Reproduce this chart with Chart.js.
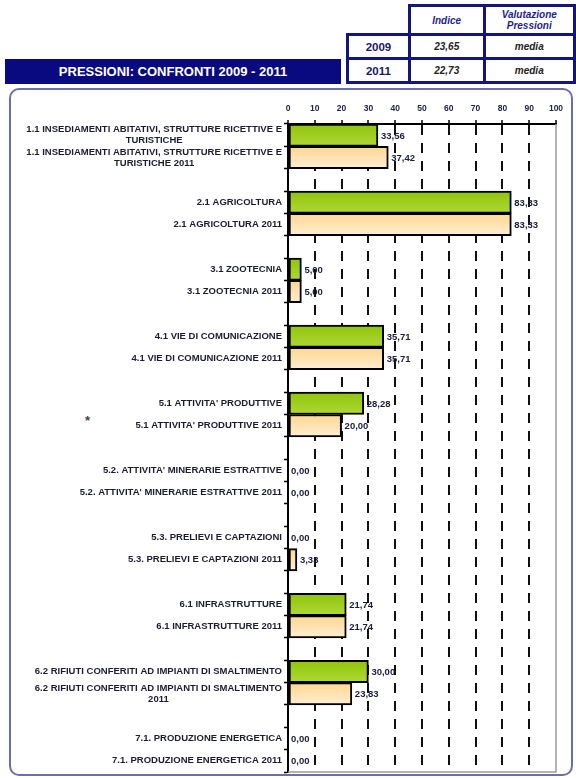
<!DOCTYPE html>
<html>
<head>
<meta charset="utf-8">
<script src="https://cdn.jsdelivr.net/npm/chart.js@4/dist/chart.umd.min.js"></script>
<style>
  body { margin: 0; width: 576px; height: 778px; background: #fff; position: relative; overflow: hidden;
         font-family: "Liberation Sans", Arial, sans-serif; }
  .banner { position: absolute; left: 5px; top: 59px; width: 336px; height: 25px; background: #0a0a80;
            color: #fff; font-weight: bold; font-size: 13px; line-height: 25px; text-align: center; }
  table.idx { position: absolute; left: 346px; top: 4px; border-collapse: collapse; }
  table.idx td { border: 3px solid #14147e; text-align: center; padding: 0; font-weight: bold; color: #1a1a80; }
  table.idx td.blank { border: none; }
  table.idx .hd { font-style: italic; font-size: 10px; line-height: 11px; color: #1e1e90; }
  table.idx .yr { font-size: 11.5px; color: #181870; }
  table.idx .val { font-style: italic; font-size: 10px; color: #222; }
  .frame { position: absolute; left: 9px; top: 88px; width: 560px; height: 684px;
           border: 2px solid #6c6cb4; border-radius: 10px; }
  #wrap { position: absolute; left: 0; top: 90px; width: 576px; height: 688px; }
  .star { position: absolute; left: 85px; top: 413px; font-size: 13px; color: #444; font-weight: bold; }
</style>
</head>
<body>

<table class="idx">
  <tr style="height:29px">
    <td class="blank" style="width:63px"></td>
    <td class="hd" style="width:75px">Indice</td>
    <td class="hd" style="width:90px">Valutazione<br>Pressioni</td>
  </tr>
  <tr style="height:24px">
    <td class="yr">2009</td><td class="val">23,65</td><td class="val">media</td>
  </tr>
  <tr style="height:24px">
    <td class="yr">2011</td><td class="val">22,73</td><td class="val">media</td>
  </tr>
</table>
<div class="banner">PRESSIONI: CONFRONTI 2009 - 2011</div>

<div class="frame"></div>
<div class="star">*</div>
<div id="wrap"><canvas id="chart"></canvas></div>

<script>
// --- data ---
const labels2009 = [
    ['1.1 INSEDIAMENTI ABITATIVI, STRUTTURE RICETTIVE E', 'TURISTICHE'],
    '2.1 AGRICOLTURA',
    '3.1 ZOOTECNIA',
    '4.1 VIE DI COMUNICAZIONE',
    "5.1 ATTIVITA' PRODUTTIVE",
    "5.2. ATTIVITA' MINERARIE ESTRATTIVE",
    '5.3. PRELIEVI E CAPTAZIONI',
    '6.1 INFRASTRUTTURE',
    '6.2 RIFIUTI CONFERITI AD IMPIANTI DI SMALTIMENTO',
    '7.1. PRODUZIONE ENERGETICA',
];
const labels2011 = [
    ['1.1 INSEDIAMENTI ABITATIVI, STRUTTURE RICETTIVE E', 'TURISTICHE 2011'],
    '2.1 AGRICOLTURA 2011',
    '3.1 ZOOTECNIA 2011',
    '4.1 VIE DI COMUNICAZIONE 2011',
    "5.1 ATTIVITA' PRODUTTIVE 2011",
    "5.2. ATTIVITA' MINERARIE ESTRATTIVE 2011",
    '5.3. PRELIEVI E CAPTAZIONI 2011',
    '6.1 INFRASTRUTTURE 2011',
    ['6.2 RIFIUTI CONFERITI AD IMPIANTI DI SMALTIMENTO', '2011'],
    '7.1. PRODUZIONE ENERGETICA 2011',
];
const values2009 = [33.56, 83.33, 5.00, 35.71, 28.28, 0.00, 0.00, 21.74, 30.00, 0.00];
const values2011 = [37.42, 83.33, 5.00, 35.71, 20.00, 0.00, 3.33, 21.74, 23.83, 0.00];
const xTicks = [0, 10, 20, 30, 40, 50, 60, 70, 80, 90, 100];

// rows: 2009 bar, 2011 bar, empty spacer row between groups
const rowLabels = [], rowValues = [], rowYear = [];
labels2009.forEach((l, i) => {
    if (i > 0) { rowLabels.push(''); rowValues.push(null); rowYear.push(0); }
    rowLabels.push(l); rowValues.push(values2009[i]); rowYear.push(2009);
    rowLabels.push(labels2011[i]); rowValues.push(values2011[i]); rowYear.push(2011);
});

const FONT = '"Liberation Sans", Arial, sans-serif';
const PLOT_LEFT = 288;

function barFill(ctx) {
    const chart = ctx.chart;
    const i = ctx.dataIndex;
    const top = rowYear[i] === 2011 ? '#ffd690' : '#8fc408';
    const bot = rowYear[i] === 2011 ? '#ffeed3' : '#afd838';
    const ys = chart.scales.y;
    if (!ys || !chart.chartArea) return top;
    const c = ys.getPixelForValue(i);
    const h = ys.getPixelForValue(1) - ys.getPixelForValue(0);
    const g = chart.ctx.createLinearGradient(0, c - h / 2, 0, c + h / 2);
    g.addColorStop(0, top);
    g.addColorStop(1, bot);
    return g;
}

const fmtIt = v => v.toFixed(2).replace('.', ',');

// category labels: single lines right aligned, multi-line blocks centred on their widest line
const yLabelPlugin = {
    id: 'yLabels',
    afterDraw(chart) {
        const ctx = chart.ctx, ys = chart.scales.y;
        const right = PLOT_LEFT - 6;
        ctx.save();
        ctx.font = 'bold 9.5px ' + FONT;
        ctx.fillStyle = '#1c1c30';
        ctx.textAlign = 'center';
        ctx.textBaseline = 'middle';
        rowLabels.forEach((lab, i) => {
            if (!lab) return;
            const lines = Array.isArray(lab) ? lab : [lab];
            const w = Math.max(...lines.map(s => ctx.measureText(s).width));
            const cx = right - w / 2;
            const lh = 11;
            const y0 = ys.getPixelForValue(i) - (lines.length - 1) * lh / 2;
            lines.forEach((s, k) => ctx.fillText(s, cx, y0 + k * lh));
        });
        ctx.restore();
    }
};

const valueLabelPlugin = {
    id: 'valueLabels',
    afterDatasetsDraw(chart) {
        const ctx = chart.ctx;
        const meta = chart.getDatasetMeta(0);
        ctx.save();
        ctx.font = 'bold 9.5px ' + FONT;
        ctx.fillStyle = '#1c1c3a';
        ctx.textAlign = 'left';
        ctx.textBaseline = 'middle';
        meta.data.forEach((bar, i) => {
            if (rowValues[i] === null) return;
            ctx.fillText(fmtIt(rowValues[i]), bar.x + 3, bar.y + 1);
        });
        ctx.restore();
    }
};

// grey frame on the right and bottom of the plot area
const plotBorderPlugin = {
    id: 'plotBorder',
    beforeDatasetsDraw(chart) {
        const { ctx, chartArea: a } = chart;
        ctx.save();
        ctx.strokeStyle = '#9a9a9a';
        ctx.lineWidth = 1.5;
        ctx.beginPath();
        ctx.moveTo(a.right, a.top);
        ctx.lineTo(a.right, a.bottom);
        ctx.lineTo(a.left, a.bottom);
        ctx.stroke();
        ctx.restore();
    }
};

new Chart(document.getElementById('chart'), {
    type: 'bar',
    data: {
        labels: rowLabels,
        datasets: [{
            data: rowValues,
            backgroundColor: barFill,
            borderColor: '#000',
            borderWidth: 2,
            borderSkipped: false,
            barPercentage: 1,
            categoryPercentage: 1,
        }],
    },
    options: {
        indexAxis: 'y',
        responsive: true,
        maintainAspectRatio: false,
        animation: false,
        layout: { padding: { left: 0, right: 20, top: 0, bottom: 6 } },
        plugins: { legend: { display: false }, tooltip: { enabled: false } },
        scales: {
            x: {
                position: 'top',
                min: 0,
                max: 100,
                afterBuildTicks: s => { s.ticks = xTicks.map(v => ({ value: v })); },
                afterFit: s => { s.height = 34; },
                ticks: { color: '#22224a', font: { family: FONT, size: 8.5, weight: 'bold' }, padding: 6, maxRotation: 0 },
                grid: {
                    color: c => (c.tick && (c.tick.value === 0 || c.tick.value === 100)) ? 'rgba(0,0,0,0)' : '#111',
                    lineWidth: 2,
                    tickLength: 4,
                    tickColor: '#000',
                    tickWidth: 1.5,
                },
                border: { color: '#000', width: 2, dash: [10, 8] },
            },
            y: {
                afterFit: s => { s.width = PLOT_LEFT; },
                ticks: { display: false },
                grid: { drawOnChartArea: false, drawTicks: true, tickLength: 4, tickColor: '#000', tickWidth: 1.5 },
                border: { color: '#000', width: 2 },
            },
        },
    },
    plugins: [plotBorderPlugin, valueLabelPlugin, yLabelPlugin],
});
</script>
</body>
</html>
